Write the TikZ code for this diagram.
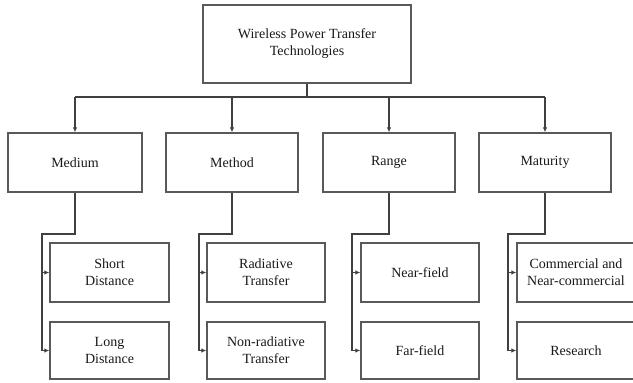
\documentclass[tikz,border=0pt]{standalone}
\usepackage{fontspec}
\setmainfont{Liberation Serif}
\newfontfamily\boxfont{Liberation Serif}
\usetikzlibrary{arrows.meta}
\begin{document}
\begin{tikzpicture}[x=1pt,y=-1pt,
  box/.style={draw=black!65, line width=1.3pt, fill=white, align=center, inner sep=0pt,
    font=\boxfont\fontsize{14}{17}\selectfont, text=black!90},
  conn/.style={draw=black!75, line width=1.2pt},
  arr/.style={conn, -{Latex[length=5pt,width=4.5pt]}}]
\useasboundingbox (0,0) rectangle (633,383);
% root
\node[box, minimum width=208pt, minimum height=78pt] (top) at (307,44) {Wireless Power Transfer\\Technologies};
% level 1
\node[box, minimum width=134pt, minimum height=59pt] (medium) at (75,162.5) {Medium};
\node[box, minimum width=132pt, minimum height=59pt] (method) at (232,162.5) {Method};
\node[box, minimum width=132pt, minimum height=59pt] (range) at (389,162.5) {Range};
\node[box, minimum width=132pt, minimum height=59pt] (maturity) at (545,162.5) {Maturity};
% level 2
\node[box, minimum width=119pt, minimum height=59pt] (sd) at (109.5,272.5) {Short\\Distance};
\node[box, minimum width=119pt, minimum height=57pt] (ld) at (109.5,350.5) {Long\\Distance};
\node[box, minimum width=118pt, minimum height=59pt] (rt) at (266,272.5) {Radiative\\Transfer};
\node[box, minimum width=118pt, minimum height=57pt] (nrt) at (266,350.5) {Non-radiative\\Transfer};
\node[box, minimum width=118pt, minimum height=59pt] (nf) at (420,272.5) {Near-field};
\node[box, minimum width=118pt, minimum height=57pt] (ff) at (420,350.5) {Far-field};
\node[box, minimum width=118pt, minimum height=59pt] (cn) at (576,272.5) {Commercial and\\Near-commercial};
\node[box, minimum width=118pt, minimum height=57pt] (res) at (576,350.5) {Research};
% bus
\coordinate (bus) at (0,97);
\draw[conn] (top.south) -- (top.south |- bus);
\draw[conn] (medium.north |- bus) -- (maturity.north |- bus);
\foreach \n in {medium,method,range,maturity}
  \draw[arr] (\n.north |- bus) -- (\n.north);
% stems
\coordinate (jm) at (42,234);
\coordinate (jt) at (199,234);
\coordinate (jr) at (352,234);
\coordinate (ju) at (508,234);
\draw[conn] (medium.south) -- (medium.south |- jm) -- (jm) -- (jm |- ld.west);
\draw[arr] (jm |- sd.west) -- (sd.west);
\draw[arr] (jm |- ld.west) -- (ld.west);
\draw[conn] (method.south) -- (method.south |- jt) -- (jt) -- (jt |- nrt.west);
\draw[arr] (jt |- rt.west) -- (rt.west);
\draw[arr] (jt |- nrt.west) -- (nrt.west);
\draw[conn] (range.south) -- (range.south |- jr) -- (jr) -- (jr |- ff.west);
\draw[arr] (jr |- nf.west) -- (nf.west);
\draw[arr] (jr |- ff.west) -- (ff.west);
\draw[conn] (maturity.south) -- (maturity.south |- ju) -- (ju) -- (ju |- res.west);
\draw[arr] (ju |- cn.west) -- (cn.west);
\draw[arr] (ju |- res.west) -- (res.west);
\end{tikzpicture}
\end{document}
